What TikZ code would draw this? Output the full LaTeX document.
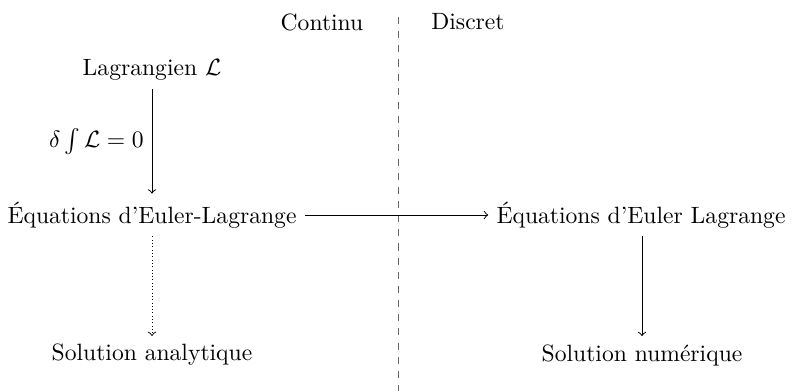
\documentclass[tikz,border=0pt]{standalone}
\usepackage{fontspec}
\begin{document}
\begin{tikzpicture}[x=0.4239pt,y=-0.4239pt,
  lbl/.style={inner sep=0.333em},
  arr/.style={->}]
\useasboundingbox (0,0) rectangle (792,391);
\node[lbl] (cont) at (322,22) {Continu};
\node[lbl] (disc) at (468,22) {Discret};
\coordinate (dtop) at (398,17);
\coordinate (dbot) at (398,391);
\draw[dashed,gray!80!black] (dtop) -- (dbot);
\node[lbl] (lag) at (152,70) {Lagrangien $\mathcal{L}$};
\node[lbl] (elc) at (152,215) {Équations d'Euler-Lagrange};
\node[lbl] (eld) at (641,215) {Équations d'Euler Lagrange};
\node[lbl] (sa) at (152,355) {Solution analytique};
\node[lbl] (sn) at (642,355) {Solution numérique};
\draw[arr] (lag) -- (elc) node[midway,left] {$\delta\int\mathcal{L}=0$};
\draw[arr] (elc) -- (eld);
\draw[arr,densely dotted] (elc) -- (sa);
\draw[arr] (eld.south -| sn.north) -- (sn);
\end{tikzpicture}
\end{document}
